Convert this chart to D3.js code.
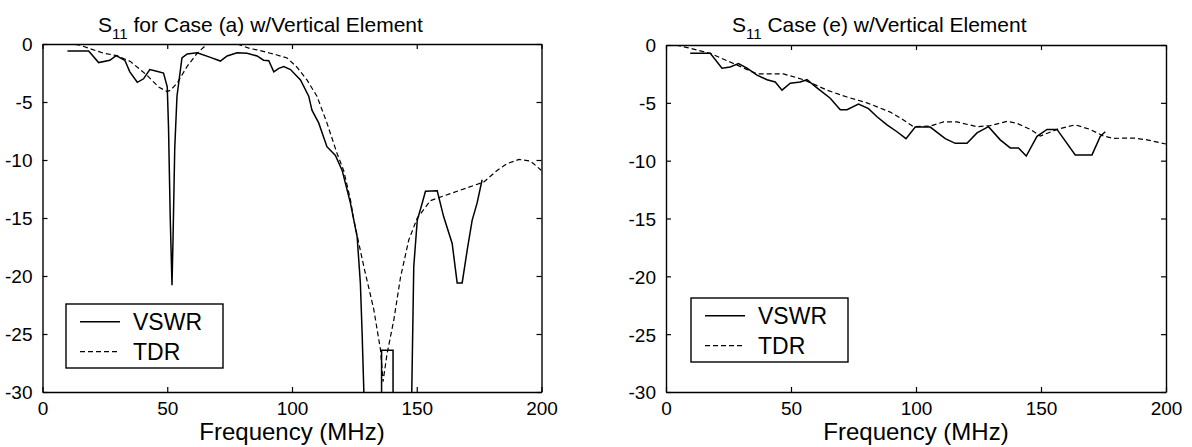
<!DOCTYPE html>
<html>
<head>
<meta charset="utf-8">
<script src="https://cdn.jsdelivr.net/npm/d3@7"></script>
<style>
  html, body { margin: 0; padding: 0; background: #fff; }
  svg { display: block; }
  text { font-family: "Liberation Sans", Arial, Helvetica, sans-serif; fill: #000; }
</style>
</head>
<body>
<svg id="chart" width="1192" height="447"></svg>
<script>
// ---------- data ----------
const xTicks = [0, 50, 100, 150, 200];
const yTicks = [0, -5, -10, -15, -20, -25, -30];
const xLabel = "Frequency (MHz)";
const seriesNames = ["VSWR", "TDR"];

// Panel (a): frequency (MHz) and S11 (dB)
const aVswrFreq = [10, 18.5, 22.5, 27, 29.5, 33, 35, 38, 40.5, 43, 45, 48.5, 50, 50.5, 51.2, 51.9, 52.3, 53, 53.9, 55.9, 58, 62, 67.3, 71.3, 74, 78, 82, 86, 88.6, 90.7, 92.7, 94.7, 96.7, 99.4, 103.4, 106.7, 108, 110.7, 114, 117.4, 120.1, 123.4, 126.1, 127.4, 128.1, 128.8, 129, 135.9, 135.9, 140.5, 140.5, 148, 148, 148.8, 150.2, 152.2, 153.5, 158.2, 160.8, 164.2, 166.2, 168.2, 170.2, 172.2, 174.2, 176.2];
const aVswrDb = [-0.6, -0.6, -1.6, -1.4, -1.0, -1.4, -2.4, -3.3, -3.0, -2.2, -2.3, -2.5, -3.7, -7.1, -15, -20.8, -17, -9, -4.5, -1.2, -0.86, -0.75, -1.15, -1.47, -1.03, -0.75, -0.8, -1.03, -1.4, -1.44, -2.4, -2.1, -1.95, -2.2, -3.1, -4.5, -5.7, -6.8, -8.85, -9.6, -10.9, -13.7, -16.6, -20.6, -24.9, -30, -40, -40, -26.4, -26.4, -40, -40, -30, -19.2, -15.2, -13.7, -12.7, -12.65, -14.9, -17.2, -20.6, -20.6, -17.8, -15.2, -13.7, -11.7];
const aTdrFreq = [10, 15, 24.5, 29.8, 35.2, 41.9, 46.5, 49.9, 51.2, 53.9, 57.9, 62, 66, 70, 74, 78, 83.3, 86, 91.3, 94, 98, 102, 106, 110, 114, 118, 120.7, 123.4, 124.8, 128.8, 132.8, 135.5, 136.5, 138.1, 140.8, 143.5, 146.8, 150.2, 155.5, 163.5, 170.2, 176.9, 182.2, 186.3, 191, 195.6, 200];
const aTdrDb = [0.1, -0.1, -0.8, -1.0, -1.5, -2.7, -3.7, -4.1, -4.0, -3.4, -1.95, -0.8, 0, 0.3, 0.3, 0, -0.4, -0.5, -0.8, -0.95, -1.2, -2.0, -3.1, -4.5, -6.8, -9.4, -10.9, -13.4, -15.2, -19.2, -22.9, -26.4, -29.1, -26.7, -23.8, -20.1, -16.9, -15.0, -13.5, -12.9, -12.4, -11.9, -10.9, -10.3, -9.95, -10.1, -10.9];

// Panel (e)
const eVswrFreq = [9.7, 17.7, 22.4, 25.7, 29, 32.4, 36.4, 40.4, 43.7, 46.4, 49.7, 53.7, 56.4, 60.4, 65.7, 69.7, 72.4, 77, 81, 84.4, 88.4, 92.4, 96, 99.7, 105.7, 111.7, 115.7, 120.4, 124.4, 129, 133.7, 137.7, 141, 144.1, 148.4, 152.4, 156.4, 163.7, 170.4, 173.7, 175.7];
const eVswrDb = [-0.72, -0.72, -2.0, -1.9, -1.6, -2.0, -2.6, -3.0, -3.2, -3.9, -3.3, -3.2, -3.0, -3.7, -4.6, -5.6, -5.6, -5.1, -5.5, -6.2, -6.9, -7.5, -8.1, -7.1, -7.1, -8.1, -8.5, -8.5, -7.6, -7.06, -8.2, -8.9, -8.9, -9.6, -7.9, -7.3, -7.3, -9.5, -9.5, -7.9, -7.5];
const eTdrFreq = [4, 10, 17.7, 27, 36.4, 47, 55, 64.4, 72.4, 80.4, 89.7, 93.7, 99, 105.7, 111, 116.4, 124.4, 129.7, 136.4, 140.4, 145.7, 149.7, 156.4, 163.7, 169.7, 175, 179, 187, 192.4, 200];
const eTdrDb = [0, -0.3, -0.72, -1.6, -2.5, -2.5, -3.0, -3.9, -4.5, -5.0, -5.8, -6.3, -7.06, -7.0, -6.65, -6.65, -7.06, -6.97, -6.6, -6.77, -7.3, -7.87, -7.3, -6.9, -7.3, -7.87, -8.07, -8.04, -8.2, -8.56];

const panelTitles = ["for Case (a) w/Vertical Element", "Case (e) w/Vertical Element"];

// ---------- layout ----------
const panels = [
  { left: 42.5, right: 541.5, top: 44, bottom: 392, titleX: 98,
    vswr: [aVswrFreq, aVswrDb], tdr: [aTdrFreq, aTdrDb], title: panelTitles[0],
    legend: { x: 66, y: 304 } },
  { left: 666, right: 1166, top: 45, bottom: 392, titleX: 732,
    vswr: [eVswrFreq, eVswrDb], tdr: [eTdrFreq, eTdrDb], title: panelTitles[1],
    legend: { x: 691, y: 298 } }
];

const svg = d3.select("#chart");
const TICK_LEN = 5;
const fmt = d => String(d);

panels.forEach((p, i) => {
  const x = d3.scaleLinear().domain([0, 200]).range([p.left, p.right]);
  const y = d3.scaleLinear().domain([-30, 0]).range([p.bottom, p.top]);
  const g = svg.append("g");

  const clipId = "clip" + i;
  svg.append("clipPath").attr("id", clipId)
    .append("rect").attr("x", p.left).attr("y", p.top)
    .attr("width", p.right - p.left).attr("height", p.bottom - p.top);

  const line = d3.line().x(d => x(d[0])).y(d => y(d[1]));
  const toPts = (fs, vs) => fs.map((f, k) => [f, vs[k]]);

  const plot = g.append("g").attr("clip-path", `url(#${clipId})`);
  plot.append("path").datum(toPts(p.tdr[0], p.tdr[1]))
    .attr("d", line).attr("fill", "none").attr("stroke", "#000")
    .attr("stroke-width", 1.2).attr("stroke-dasharray", "5,3");
  plot.append("path").datum(toPts(p.vswr[0], p.vswr[1]))
    .attr("d", line).attr("fill", "none").attr("stroke", "#000")
    .attr("stroke-width", 1.5);

  // axes (inward ticks, box)
  const axB = d3.axisBottom(x).tickValues(xTicks).tickFormat(fmt).tickSizeInner(-TICK_LEN).tickSizeOuter(0).tickPadding(10);
  const axT = d3.axisTop(x).tickValues(xTicks).tickSizeInner(-TICK_LEN).tickSizeOuter(0).tickFormat("");
  const axL = d3.axisLeft(y).tickValues(yTicks).tickFormat(fmt).tickSizeInner(-TICK_LEN).tickSizeOuter(0).tickPadding(10);
  const axR = d3.axisRight(y).tickValues(yTicks).tickSizeInner(-TICK_LEN).tickSizeOuter(0).tickFormat("");

  const styleAxis = sel => {
    sel.select(".domain").attr("stroke", "#000").attr("stroke-width", 1.4);
    sel.selectAll(".tick line").attr("stroke", "#000").attr("stroke-width", 1.2);
    sel.selectAll(".tick text").attr("font-size", 19)
      .attr("font-family", '"Liberation Sans", Arial, sans-serif').attr("fill", "#000");
  };
  g.append("g").attr("transform", `translate(0,${p.bottom})`).call(axB).call(styleAxis)
    .selectAll(".tick text").attr("dy", "0.71em");
  g.append("g").attr("transform", `translate(0,${p.top})`).call(axT).call(styleAxis);
  g.append("g").attr("transform", `translate(${p.left},0)`).call(axL).call(styleAxis)
    .selectAll(".tick text").attr("dy", "0.36em");
  g.append("g").attr("transform", `translate(${p.right},0)`).call(axR).call(styleAxis);

  // x label
  g.append("text").attr("x", (p.left + p.right) / 2).attr("y", 440)
    .attr("text-anchor", "middle").attr("font-size", 24).text(xLabel);

  // title with subscript
  const t = g.append("text").attr("x", p.titleX).attr("y", 32).attr("font-size", 21);
  t.append("tspan").text("S");
  t.append("tspan").attr("font-size", 15).attr("dy", 7).text("11");
  t.append("tspan").attr("dy", -7).text(" " + p.title);

  // legend
  const L = g.append("g").attr("transform", `translate(${p.legend.x},${p.legend.y})`);
  L.append("rect").attr("width", 157).attr("height", 64).attr("fill", "#fff")
    .attr("stroke", "#000").attr("stroke-width", 1.4);
  const rows = [{ name: seriesNames[0], dash: null, w: 1.5 }, { name: seriesNames[1], dash: "5,3", w: 1.2 }];
  rows.forEach((r, k) => {
    const yy = 17.7 + k * 30;
    L.append("line").attr("x1", 14).attr("x2", 54).attr("y1", yy).attr("y2", yy)
      .attr("stroke", "#000").attr("stroke-width", r.w)
      .attr("stroke-dasharray", r.dash);
    L.append("text").attr("x", 67).attr("y", yy).attr("dy", "0.36em")
      .attr("font-size", 23).text(r.name);
  });
});
</script>
</body>
</html>
